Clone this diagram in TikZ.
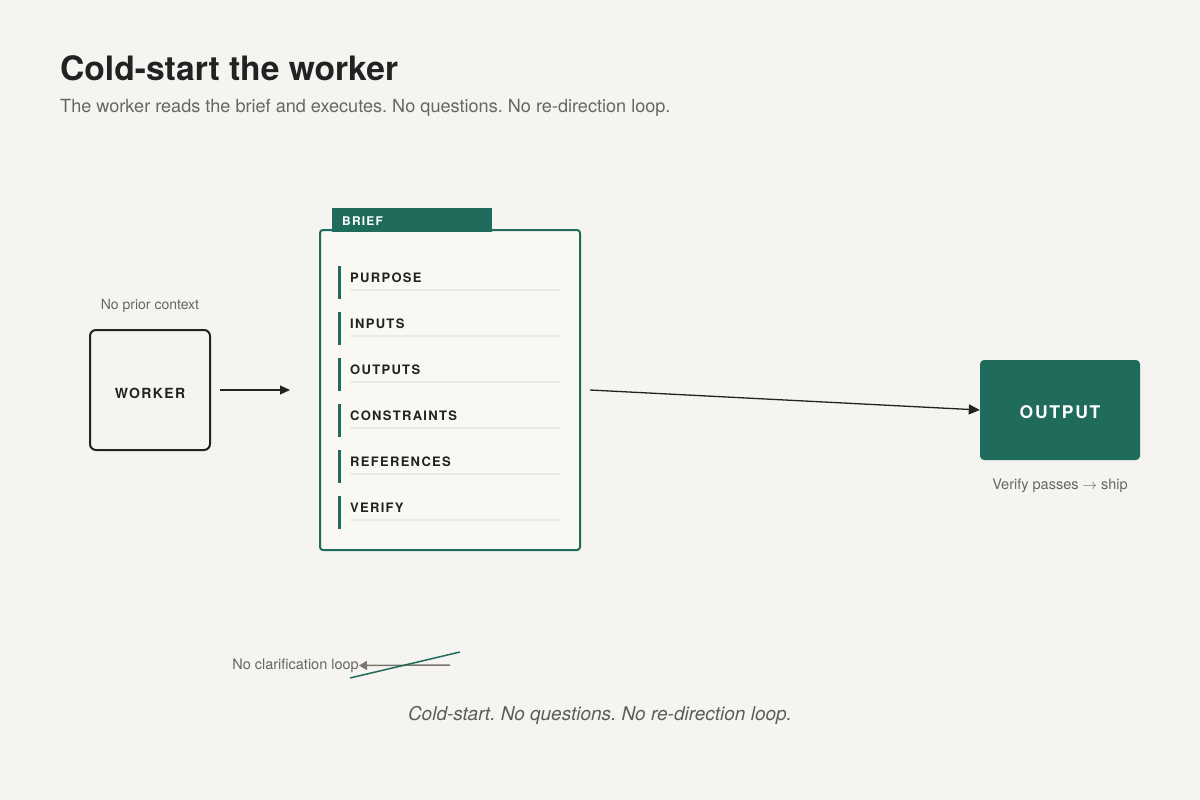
\documentclass[tikz,border=0pt]{standalone}
\usepackage{fontspec}
\setmainfont{TeX Gyre Heros}
\newfontfamily\spacedfont[LetterSpace=10]{TeX Gyre Heros}
\usetikzlibrary{arrows.meta,positioning}
\definecolor{bg}{HTML}{F5F4F0}
\definecolor{brand}{HTML}{1F6B5C}
\definecolor{paper}{HTML}{FAF8F2}
\definecolor{rule}{HTML}{ECEAE5}
\definecolor{ink}{HTML}{222222}
\definecolor{muted}{HTML}{666666}
\definecolor{arrowgray}{HTML}{7A7570}
\newcommand{\fs}[1]{\fontsize{#1}{#1}\selectfont}
\frenchspacing
\tikzset{
  lbl/.style={inner sep=0pt, text=ink, font=\spacedfont\bfseries\fs{13}, anchor=west},
  note/.style={inner sep=0pt, text=muted, font=\fs{14}},
  bar/.style={fill=brand, draw=none},
  uline/.style={draw=rule, line width=2pt},
  conn/.style={draw=ink, line width=1.3pt, -{Triangle[length=11pt,width=10pt]}},
}
\begin{document}
\begin{tikzpicture}[x=1pt,y=-1pt]
\useasboundingbox (0,0) rectangle (1200,800);
\fill[bg] (0,0) rectangle (1200,800);
% title
\node[inner sep=0pt, anchor=base west, text=ink, font=\bfseries\fs{33.6}] (title) at (60,80.5) {Cold-start the worker};
\node[inner sep=0pt, anchor=base west, text=muted, font=\fs{18.1}] (subtitle) at (60,112) {The worker reads the brief and executes. No questions. No re-direction loop.};
% worker
\node[draw=ink, line width=2pt, rounded corners=6pt, minimum width=120pt, minimum height=120pt, fill=bg, inner sep=0pt] (worker) at (150,390) {};
\node[inner sep=0pt, font=\spacedfont\bfseries\fs{14}, text=ink] (workertxt) at (150,393) {WORKER};
\node[note] (prior) at (150,306) {No prior context};
\coordinate (wa) at (220,390);
\coordinate (wb) at (290,390);
\draw[conn, line width=1.2pt, -{Triangle[length=10pt,width=9pt]}] (wa) -- (wb);
% brief
\node[draw=brand, line width=2pt, rounded corners=3pt, fill=paper, minimum width=260pt, minimum height=320pt, inner sep=0pt] (brief) at (450,390) {};
\node[fill=brand, minimum width=160pt, minimum height=24pt, inner sep=0pt, anchor=north west] (tab) at (332,208) {};
\node[inner sep=0pt, anchor=west, text=white, font=\spacedfont\bfseries\fs{12}] (tabtxt) at (342,221) {BRIEF};
% items
\foreach \t [count=\i from 0] in {PURPOSE,INPUTS,OUTPUTS,CONSTRAINTS,REFERENCES,VERIFY} {
  \pgfmathsetmacro{\cy}{277+46*\i}
  \fill[bar] (338,\cy-11) rectangle (341,\cy+22);
  \node[lbl] (item\i) at (350,\cy+1) {\t};
  \draw[uline] (350,\cy+13) -- (560,\cy+13);
}
% output
\node[fill=brand, rounded corners=4pt, minimum width=160pt, minimum height=100pt, inner sep=0pt] (output) at (1060,410) {};
\node[inner sep=0pt, text=white, font=\spacedfont\bfseries\fs{17.5}] (outtxt) at (1060,412) {OUTPUT};
\node[note, font=\fs{14.5}] (verify) at (1060,486) {Verify passes $\rightarrow$ ship};
\coordinate (ba) at (590,390);
\draw[conn] (ba) -- (output.west);
% no clarification loop
\node[note, anchor=east, font=\fs{14.5}] (noloop) at (359,665.5) {No clarification loop};
\coordinate (la) at (450,665);
\draw[draw=arrowgray, line width=1.5pt, -{Triangle[length=8pt,width=9pt]}] (la) -- (noloop.east);
\coordinate (sa) at (350,678);
\coordinate (sb) at (460,652);
\draw[brand, line width=1.5pt] (sa) -- (sb);
% footer
\node[inner sep=0pt, text=muted!90!black, font=\itshape\fs{19}] (footer) at (600,715) {Cold-start. No questions. No re-direction loop.};
\end{tikzpicture}
\end{document}
